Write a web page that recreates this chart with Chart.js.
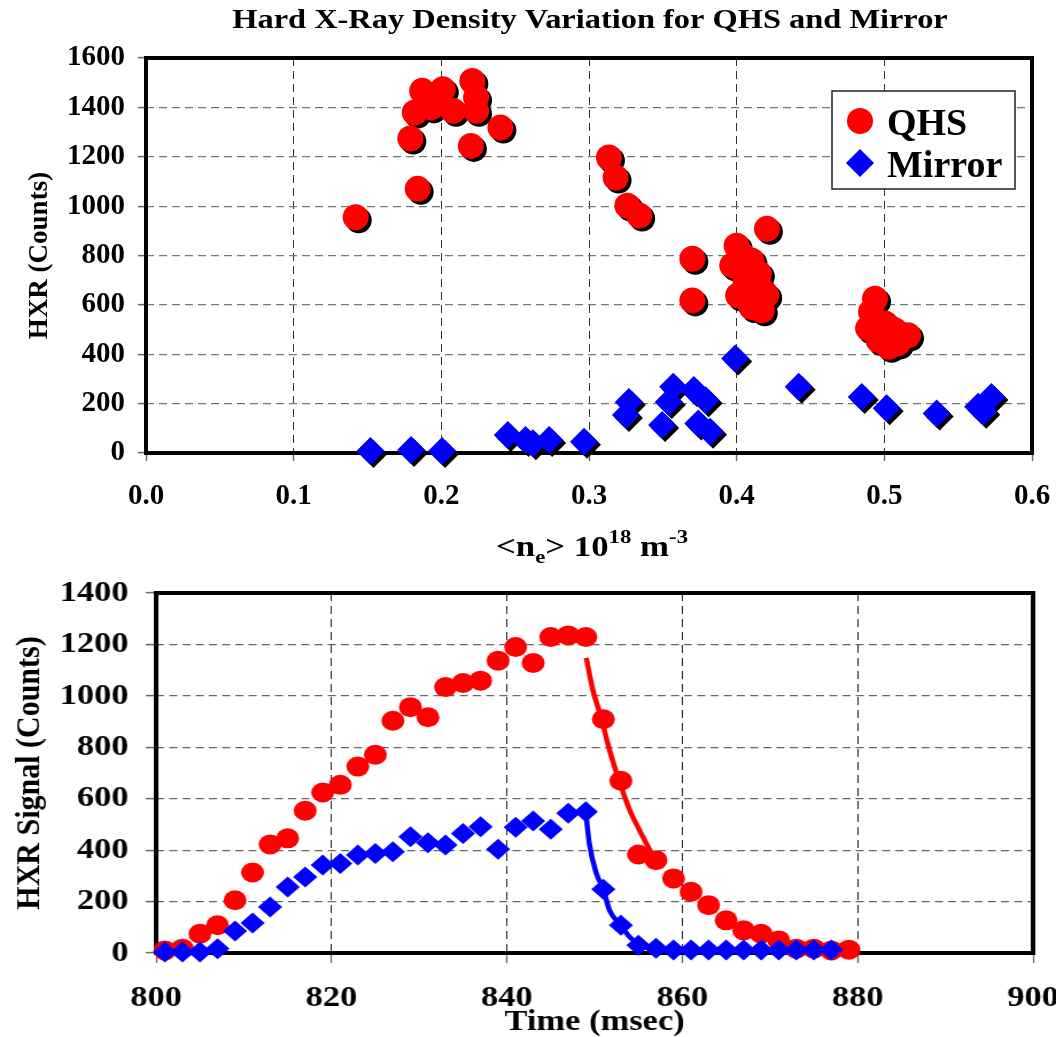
<!DOCTYPE html>
<html>
<head>
<meta charset="utf-8">
<script src="https://cdn.jsdelivr.net/npm/chart.js"></script>
<style>
  html, body { margin: 0; padding: 0; background: #fff; overflow: hidden; }
  #wrap { position: relative; width: 1056px; height: 1037px; }
  #densityChart { position: absolute; left: 0; top: 0; }
  #timeChart { position: absolute; left: 0; top: 560px; }
</style>
</head>
<body>
<div id="wrap">
  <canvas id="densityChart" width="1056" height="580" style="width:1056px;height:580px"></canvas>
  <!-- the time trace is drawn on a narrower canvas and widened to the page -->
  <canvas id="timeChart" width="920" height="480" style="width:1056px;height:480px"></canvas>
</div>
<script>
// ---- density scan: HXR counts vs line averaged density ----
var qhsDensity = [0.142, 0.184, 0.179, 0.187, 0.182, 0.193, 0.201, 0.208, 0.221, 0.2235, 0.2235, 0.220, 0.240,
  0.3135, 0.318, 0.326, 0.334, 0.370, 0.370, 0.4205,
  0.400, 0.397, 0.406, 0.415, 0.417, 0.401, 0.410, 0.417, 0.406, 0.410, 0.404, 0.414, 0.420, 0.412,
  0.4937, 0.491, 0.489, 0.5005, 0.507, 0.516, 0.503, 0.509, 0.496, 0.498, 0.511];
var qhsCounts = [955, 1070, 1274, 1467, 1379, 1400, 1473, 1386, 1507, 1440, 1386, 1244, 1318,
  1197, 1116, 1002, 962, 787, 618, 908,
  840, 760, 739, 727, 659, 638, 591, 578, 687, 780, 800, 700, 640, 620,
  625, 571, 505, 525, 497, 477, 430, 444, 457, 490, 465];
var mirrorDensity = [0.152, 0.1795, 0.2005, 0.245, 0.257, 0.262, 0.273, 0.2966, 0.327, 0.325, 0.357, 0.354,
  0.371, 0.379, 0.3495, 0.374, 0.382, 0.399, 0.442, 0.4847, 0.5016, 0.5354, 0.5725, 0.567, 0.5635];
var mirrorCounts = [8, 12, 8, 73, 53, 40, 53, 46, 207, 154, 268, 207,
  255, 214, 113, 120, 86, 383, 268, 227, 181, 160, 227, 167, 187];
var densityTicks = [0, 0.1, 0.2, 0.3, 0.4, 0.5, 0.6];
var densityTickLabels = ['0.0', '0.1', '0.2', '0.3', '0.4', '0.5', '0.6'];
var countTicks = [0, 200, 400, 600, 800, 1000, 1200, 1400, 1600];

// ---- time trace: HXR signal through the discharge ----
var shotTime = [801, 803, 805, 807, 809, 811, 813, 815, 817, 819, 821, 823, 825, 827, 829, 831, 833, 835, 837, 839,
  841, 843, 845, 847, 849, 851, 853, 855, 857, 859, 861, 863, 865, 867, 869, 871, 873, 875, 877, 879];
var qhsSignal = [10, 17, 75, 108, 205, 313, 422, 446, 553, 624, 654, 725, 771, 903, 956, 917, 1034, 1050, 1059, 1137,
  1190, 1128, 1229, 1235, 1229, 909, 670, 383, 361, 290, 238, 186, 127, 88, 75, 49, 17, 17, 10, 13];
var mirrorTime = [801, 803, 805, 807, 809, 811, 813, 815, 817, 819, 821, 823, 825, 827, 829, 831, 833, 835, 837, 839,
  841, 843, 845, 847, 849, 851, 853, 855, 857, 859, 861, 863, 865, 867, 869, 871, 873, 875, 877];
var mirrorSignal = [4, 4, 4, 17, 86, 117, 179, 257, 296, 342, 348, 381, 387, 394, 452, 429, 420, 465, 491, 403,
  489, 513, 481, 543, 549, 248, 108, 30, 18, 12, 12, 12, 12, 12, 12, 12, 12, 12, 12];
// decay curves after the drop
var qhsFitTime = [849.05, 849.8, 850.8, 851.7, 852.8, 854.0, 855.1, 856.5];
var qhsFitSignal = [1148, 1024, 909, 790, 670, 556, 479, 387];
var mirrorFitTime = [849.05, 849.4, 850.2, 851.0, 851.7, 853.0, 854.0, 855.0];
var mirrorFitSignal = [530, 426, 309, 248, 166, 108, 62, 37];
var timeTicks = [800, 820, 840, 860, 880, 900];
var signalTicks = [0, 200, 400, 600, 800, 1000, 1200, 1400];

var SERIF = '"Liberation Serif", "Times New Roman", serif';
var RED = '#ff0000';
var BLUE = '#0000ff';

function pairs(xs, ys) {
  return xs.map(function (x, i) { return { x: x, y: ys[i] }; });
}

function boldFont(size) {
  return { family: SERIF, size: size, weight: 'bold' };
}

function fixedTicks(values) {
  return function (scale) {
    scale.ticks = values.map(function (v) { return { value: v }; });
  };
}

function plainLabel(v) {
  return String(v);
}

function markerPath(ctx, style, x, y, r) {
  ctx.beginPath();
  if (style === 'rectRot') {
    ctx.moveTo(x - r, y);
    ctx.lineTo(x, y - r);
    ctx.lineTo(x + r, y);
    ctx.lineTo(x, y + r);
    ctx.closePath();
  } else {
    ctx.arc(x, y, r, 0, Math.PI * 2);
  }
}

// text drawn in pieces (for sub/superscripts), widened by sx
function drawStretched(ctx, parts, cx, baseline, sx) {
  ctx.save();
  ctx.fillStyle = '#000';
  ctx.textBaseline = 'alphabetic';
  ctx.textAlign = 'left';
  var total = 0;
  parts.forEach(function (p) {
    ctx.font = 'bold ' + p.size + 'px ' + SERIF;
    p.w = ctx.measureText(p.text).width;
    total += p.w;
  });
  ctx.translate(cx - total * sx / 2, baseline);
  ctx.scale(sx, 1);
  var x = 0;
  parts.forEach(function (p) {
    ctx.font = 'bold ' + p.size + 'px ' + SERIF;
    ctx.fillText(p.text, x, p.dy || 0);
    x += p.w;
  });
  ctx.restore();
}

function framePlugin(lineWidth) {
  return {
    id: 'frame',
    beforeDatasetsDraw: function (chart) {
      var a = chart.chartArea, ctx = chart.ctx;
      ctx.save();
      ctx.strokeStyle = '#000';
      ctx.lineWidth = lineWidth;
      ctx.strokeRect(a.left, a.top, a.right - a.left, a.bottom - a.top);
      ctx.restore();
    }
  };
}

// black drop shadow under every marker of the density plot
var markerShadow = {
  id: 'markerShadow',
  beforeDatasetsDraw: function (chart) {
    var ctx = chart.ctx;
    ctx.save();
    ctx.fillStyle = '#000';
    chart.data.datasets.forEach(function (ds, i) {
      chart.getDatasetMeta(i).data.forEach(function (pt) {
        markerPath(ctx, ds.pointStyle, pt.x + 3, pt.y + 3, ds.pointRadius);
        ctx.fill();
      });
    });
    ctx.restore();
  }
};

var densityText = {
  id: 'densityText',
  afterDraw: function (chart) {
    var ctx = chart.ctx;
    drawStretched(ctx, [{ text: 'Hard X-Ray Density Variation for QHS and Mirror', size: 27 }], 590, 28, 1.2);
    drawStretched(ctx, [
      { text: '<n', size: 29 },
      { text: 'e', size: 19, dy: 7 },
      { text: '> 10', size: 29 },
      { text: '18', size: 19, dy: -13 },
      { text: ' m', size: 29 },
      { text: '-3', size: 19, dy: -13 }
    ], 592, 556, 1.2);
  }
};

// boxed legend in the upper right of the density plot
var densityLegend = {
  id: 'densityLegend',
  afterDraw: function (chart) {
    var ctx = chart.ctx;
    var box = { x: 832, y: 91, w: 183, h: 98 };
    ctx.save();
    ctx.fillStyle = '#fff';
    ctx.fillRect(box.x, box.y, box.w, box.h);
    ctx.strokeStyle = '#222';
    ctx.lineWidth = 1.5;
    ctx.strokeRect(box.x, box.y, box.w, box.h);
    ctx.font = 'bold 38px ' + SERIF;
    ctx.textBaseline = 'alphabetic';
    chart.data.datasets.forEach(function (ds, i) {
      var cy = box.y + 30 + i * 42;
      ctx.fillStyle = ds.backgroundColor;
      markerPath(ctx, ds.pointStyle, 860, cy, ds.pointRadius);
      ctx.fill();
      ctx.fillStyle = '#000';
      ctx.fillText(ds.label, 887, cy + 14);
    });
    ctx.restore();
  }
};

new Chart(document.getElementById('densityChart'), {
  type: 'scatter',
  data: {
    datasets: [
      {
        label: 'QHS',
        data: pairs(qhsDensity, qhsCounts),
        pointStyle: 'circle',
        pointRadius: 13,
        backgroundColor: RED,
        borderWidth: 0,
        clip: false
      },
      {
        label: 'Mirror',
        data: pairs(mirrorDensity, mirrorCounts),
        pointStyle: 'rectRot',
        pointRadius: 14,
        backgroundColor: BLUE,
        borderWidth: 0,
        clip: false
      }
    ]
  },
  options: {
    responsive: false,
    animation: false,
    devicePixelRatio: 1,
    events: [],
    layout: { padding: { left: 0, right: 24, top: 58, bottom: 0 } },
    plugins: { legend: { display: false }, tooltip: { enabled: false } },
    scales: {
      x: {
        type: 'linear',
        min: 0,
        max: 0.6,
        afterBuildTicks: fixedTicks(densityTicks),
        afterFit: function (s) { s.height = 127; s.paddingLeft = 0; s.paddingRight = 0; },
        ticks: {
          callback: function (v, i) { return densityTickLabels[i]; },
          font: boldFont(29), color: '#000', padding: 18, maxRotation: 0, autoSkip: false
        },
        grid: { color: '#333', lineWidth: 1, tickLength: 8, tickColor: '#666', tickWidth: 1.5, tickBorderDash: [] },
        border: { display: false, dash: [8, 5] }
      },
      y: {
        type: 'linear',
        min: 0,
        max: 1600,
        afterBuildTicks: fixedTicks(countTicks),
        afterFit: function (s) { s.width = 146; s.paddingTop = 0; s.paddingBottom = 0; },
        ticks: { callback: plainLabel, font: boldFont(29), color: '#000', padding: 13 },
        grid: { color: '#777', lineWidth: 1.2, tickLength: 8, tickColor: '#666', tickWidth: 1.5, tickBorderDash: [] },
        border: { display: false, dash: [8, 5] },
        title: { display: true, text: 'HXR (Counts)', font: boldFont(27), color: '#000', padding: { top: 24, bottom: 0 } }
      }
    }
  },
  plugins: [framePlugin(4), markerShadow, densityText, densityLegend]
});

new Chart(document.getElementById('timeChart'), {
  type: 'scatter',
  data: {
    datasets: [
      {
        label: 'Mirror',
        data: pairs(mirrorTime, mirrorSignal),
        pointStyle: 'rectRot',
        pointRadius: 10.5,
        backgroundColor: BLUE,
        borderWidth: 0,
        clip: false,
        order: 0
      },
      {
        label: 'Mirror decay',
        data: pairs(mirrorFitTime, mirrorFitSignal),
        showLine: true,
        pointRadius: 0,
        borderColor: BLUE,
        borderWidth: 4.5,
        cubicInterpolationMode: 'monotone',
        clip: false,
        order: 1
      },
      {
        label: 'QHS decay',
        data: pairs(qhsFitTime, qhsFitSignal),
        showLine: true,
        pointRadius: 0,
        borderColor: RED,
        borderWidth: 4.5,
        cubicInterpolationMode: 'monotone',
        clip: false,
        order: 2
      },
      {
        label: 'QHS',
        data: pairs(shotTime, qhsSignal),
        pointStyle: 'circle',
        pointRadius: 10,
        backgroundColor: RED,
        borderWidth: 0,
        clip: false,
        order: 3
      }
    ]
  },
  options: {
    responsive: false,
    animation: false,
    devicePixelRatio: 1,
    events: [],
    layout: { padding: { left: 0, right: 20, top: 33, bottom: 0 } },
    plugins: { legend: { display: false }, tooltip: { enabled: false } },
    scales: {
      x: {
        type: 'linear',
        min: 800,
        max: 900,
        afterBuildTicks: fixedTicks(timeTicks),
        afterFit: function (s) { s.height = 87; s.paddingLeft = 0; s.paddingRight = 0; },
        ticks: { callback: plainLabel, font: boldFont(30), color: '#000', padding: 17, maxRotation: 0, autoSkip: false },
        grid: { color: '#222', lineWidth: 1, tickLength: 10, tickColor: '#666', tickWidth: 1.3, tickBorderDash: [] },
        border: { display: false, dash: [8, 5] },
        title: { display: true, text: 'Time (msec)', font: boldFont(30), color: '#000', padding: { top: 0, bottom: 0 } }
      },
      y: {
        type: 'linear',
        min: 0,
        max: 1400,
        afterBuildTicks: fixedTicks(signalTicks),
        afterFit: function (s) { s.width = 136; s.paddingTop = 0; s.paddingBottom = 0; },
        ticks: { callback: plainLabel, font: boldFont(30), color: '#000', padding: 15 },
        grid: { color: '#666', lineWidth: 1.2, tickLength: 9, tickColor: '#666', tickWidth: 1.5, tickBorderDash: [] },
        border: { display: false, dash: [7, 4.5] },
        title: { display: true, text: 'HXR Signal (Counts)', font: boldFont(30), color: '#000', padding: { top: 8, bottom: 0 } }
      }
    }
  },
  plugins: [framePlugin(4)]
});
</script>
</body>
</html>
